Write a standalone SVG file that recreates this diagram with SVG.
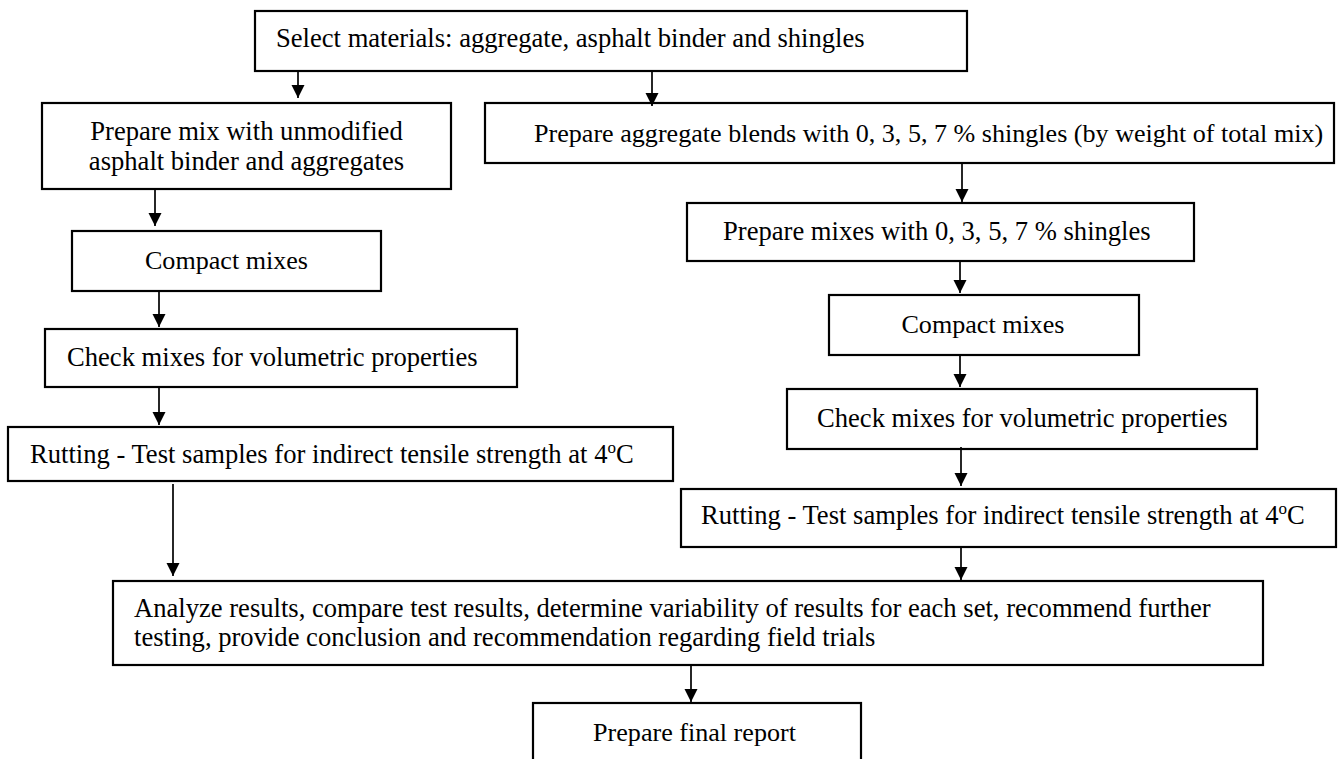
<svg xmlns="http://www.w3.org/2000/svg" width="1338" height="759" viewBox="0 0 1338 759">
<defs>
<marker id="ah" markerUnits="userSpaceOnUse" markerWidth="14" markerHeight="14" viewBox="0 0 14 14" refX="13" refY="7" orient="auto">
<path d="M0,0.5 L13,7 L0,13.5 Z" fill="#000"/>
</marker>
<style>
.box{fill:#fff;stroke:#000;stroke-width:2.2}
.t{font-family:"Liberation Serif","Times New Roman",serif;font-size:26.6px;fill:#000}
.s{font-size:26.1px}
.c{text-anchor:middle}
.con line{stroke:#000;stroke-width:1.7;marker-end:url(#ah)}
.sup{font-size:17px}
</style>
</defs>
<rect width="1338" height="759" fill="#fff"/>
<g id="n1"><rect class="box" x="255" y="11" width="712" height="60"/><text class="t" x="276" y="47">Select materials: aggregate, asphalt binder and shingles</text></g>
<g id="n2"><rect class="box" x="42" y="103" width="409" height="86"/><text class="t c" x="246.5" y="140">Prepare mix with unmodified</text><text class="t c" x="246.5" y="170">asphalt binder and aggregates</text></g>
<g id="n3"><rect class="box" x="485" y="103" width="849" height="60"/><text class="t s" x="534" y="142">Prepare aggregate blends with 0, 3, 5, 7 % shingles (by weight of total mix)</text></g>
<g id="n4"><rect class="box" x="72" y="231" width="309" height="60"/><text class="t s c" x="226.5" y="269">Compact mixes</text></g>
<g id="n5"><rect class="box" x="687" y="203" width="507" height="58"/><text class="t" x="723" y="240">Prepare mixes with 0, 3, 5, 7 % shingles</text></g>
<g id="n6"><rect class="box" x="45" y="329" width="472" height="58"/><text class="t" x="67" y="366">Check mixes for volumetric properties</text></g>
<g id="n7"><rect class="box" x="829" y="295" width="310" height="60"/><text class="t s c" x="983" y="333">Compact mixes</text></g>
<g id="n8"><rect class="box" x="787" y="389" width="470" height="60"/><text class="t" x="817" y="427">Check mixes for volumetric properties</text></g>
<g id="n9"><rect class="box" x="8" y="427" width="665" height="54"/><text class="t" x="30" y="463">Rutting - Test samples for indirect tensile strength at 4<tspan class="sup" dy="-10">o</tspan><tspan dy="10">C</tspan></text></g>
<g id="n10"><rect class="box" x="681" y="489" width="655" height="58"/><text class="t" x="701" y="524">Rutting - Test samples for indirect tensile strength at 4<tspan class="sup" dy="-10">o</tspan><tspan dy="10">C</tspan></text></g>
<g id="n11"><rect class="box" x="113" y="581" width="1150" height="84"/><text class="t" x="134" y="617">Analyze results, compare test results, determine variability of results for each set, recommend further</text><text class="t" x="134" y="646">testing, provide conclusion and recommendation regarding field trials</text></g>
<g id="n12"><rect class="box" x="533" y="703" width="328" height="70"/><text class="t s c" x="694.5" y="741">Prepare final report</text></g>
<g id="connectors" class="con">
<line x1="298" y1="71" x2="298" y2="98"/>
<line x1="652" y1="71" x2="652" y2="106"/>
<line x1="155" y1="189" x2="155" y2="226"/>
<line x1="159" y1="291" x2="159" y2="327"/>
<line x1="159" y1="387" x2="159" y2="425"/>
<line x1="173" y1="484" x2="173" y2="576"/>
<line x1="962" y1="163" x2="962" y2="202"/>
<line x1="960" y1="261" x2="960" y2="293"/>
<line x1="960" y1="355" x2="960" y2="387"/>
<line x1="961" y1="447" x2="961" y2="486"/>
<line x1="961" y1="547" x2="961" y2="580"/>
<line x1="691" y1="665" x2="691" y2="702"/>
</g>
</svg>
